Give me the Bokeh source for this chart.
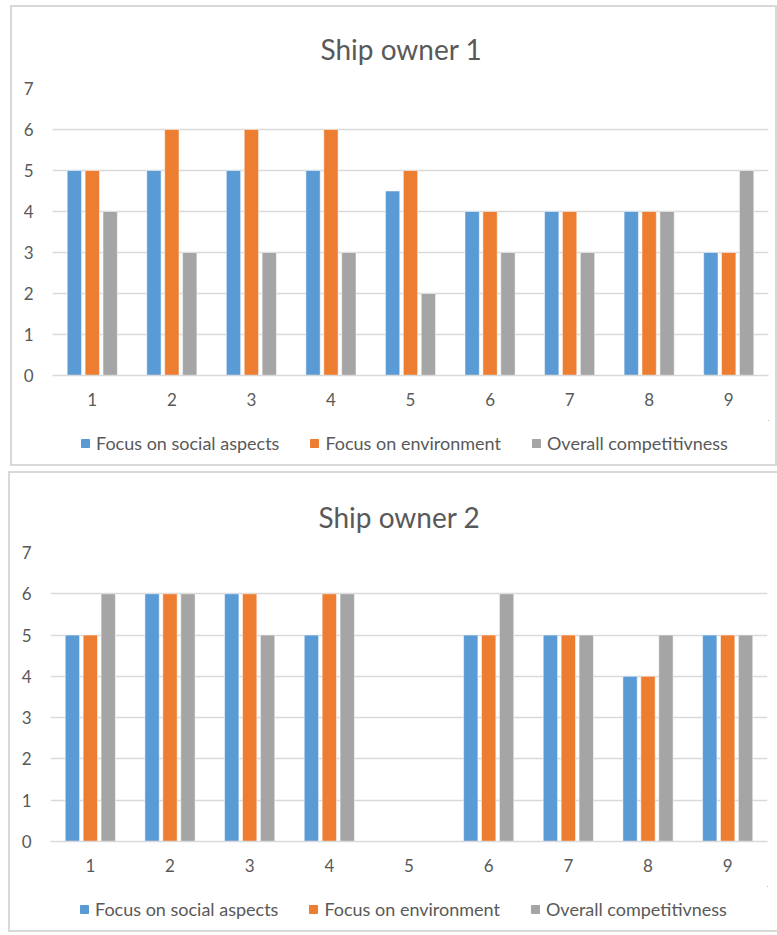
import math
from bokeh.plotting import figure
from bokeh.layouts import column
from bokeh.models import ColumnDataSource, Range1d, FactorRange, Legend, LegendItem
from bokeh.transform import dodge
from bokeh.embed import file_html
from bokeh.resources import INLINE

categories = ["1", "2", "3", "4", "5", "6", "7", "8", "9"]
series_names = ["Focus on social aspects", "Focus on environment", "Overall competitivness"]

owner1_social = [5, 5, 5, 5, 4.5, 4, 4, 4, 3]
owner1_env = [5, 6, 6, 6, 5, 4, 4, 4, 3]
owner1_overall = [4, 3, 3, 3, 2, 3, 3, 4, 5]

nan = float("nan")
owner2_social = [5, 6, 6, 5, nan, 5, 5, 4, 5]
owner2_env = [5, 6, 6, 6, nan, 5, 5, 4, 5]
owner2_overall = [6, 6, 5, 6, nan, 6, 5, 5, 5]

y_ticks = [0, 1, 2, 3, 4, 5, 6, 7]

COLORS = ["#5B9BD5", "#ED7D31", "#A5A5A5"]
TEXT = "#595959"
GRID = "#D9D9D9"
FONT = "Lato"


def make_panel(title, social, env, overall, width, margin,
               frame_left, frame_top, frame_right, title_offset, title_standoff, legend_x):
    src = ColumnDataSource(dict(cat=categories, s=social, e=env, o=overall))
    p = figure(x_range=FactorRange(*categories), y_range=Range1d(0, 7),
               width=width, height=413, output_backend="svg",
               toolbar_location=None, title=title,
               min_border_left=frame_left, min_border_right=frame_right,
               min_border_top=frame_top, min_border_bottom=45)
    offsets = [-0.225, 0.0, 0.225]
    for key, off, col in zip(["s", "e", "o"], offsets, COLORS):
        p.vbar(x=dodge("cat", off, range=p.x_range), top=key, width=0.18,
               source=src, fill_color=col, line_color="white", line_width=0.5)
    p.title.align = "left"
    p.title.offset = title_offset
    p.title.text_font = FONT
    p.title.text_font_size = "28px"
    p.title.text_font_style = "normal"
    p.title.text_color = TEXT
    p.title.standoff = title_standoff

    p.xgrid.grid_line_color = None
    p.ygrid.grid_line_color = GRID
    p.ygrid.grid_line_width = 1.3
    p.yaxis.ticker = y_ticks
    p.outline_line_color = None

    for ax in (p.xaxis[0], p.yaxis[0]):
        ax.major_tick_line_color = None
        ax.minor_tick_line_color = None
        ax.major_label_text_font = FONT
        ax.major_label_text_font_size = "17px"
        ax.major_label_text_color = TEXT
    p.yaxis.axis_line_color = None
    p.yaxis.major_label_standoff = 13
    p.xaxis.axis_line_color = GRID
    p.xaxis.axis_line_width = 1.3
    p.xaxis.major_label_standoff = 11

    # legend strip under the chart
    lf = figure(width=width, height=44, output_backend="svg", toolbar_location=None,
                min_border=0, x_range=Range1d(0, 1), y_range=Range1d(0, 1))
    lf.axis.visible = False
    lf.grid.visible = False
    lf.outline_line_color = None
    items = []
    for col, name in zip(COLORS, series_names):
        r = lf.vbar(x=[5], top=[5], bottom=[4], width=0.1, fill_color=col, line_color=col)
        items.append(LegendItem(label=name, renderers=[r]))
    leg = Legend(items=items, orientation="horizontal", location=(legend_x, 10),
                 border_line_color=None, background_fill_alpha=0,
                 label_text_font=FONT, label_text_font_size="18px",
                 label_text_color=TEXT, glyph_width=10, glyph_height=10,
                 spacing=30, label_standoff=6, margin=0, padding=0,
                 label_height=20)
    lf.add_layout(leg)

    panel = column(p, lf, spacing=0, margin=margin,
                   styles={"border": "2px solid #D9D9D9"})
    return panel


panel1 = make_panel("Ship owner 1", owner1_social, owner1_env, owner1_overall,
                    width=763, margin=(5, 0, 0, 10),
                    frame_left=40, frame_top=80, frame_right=7,
                    title_offset=268, title_standoff=45, legend_x=28)
panel2 = make_panel("Ship owner 2", owner2_social, owner2_env, owner2_overall,
                    width=767, margin=(5, 0, 0, 8),
                    frame_left=40, frame_top=79, frame_right=10,
                    title_offset=268, title_standoff=38, legend_x=29)

layout = column(panel1, panel2, spacing=0)
open("out.html", "w").write(file_html(layout, INLINE))
